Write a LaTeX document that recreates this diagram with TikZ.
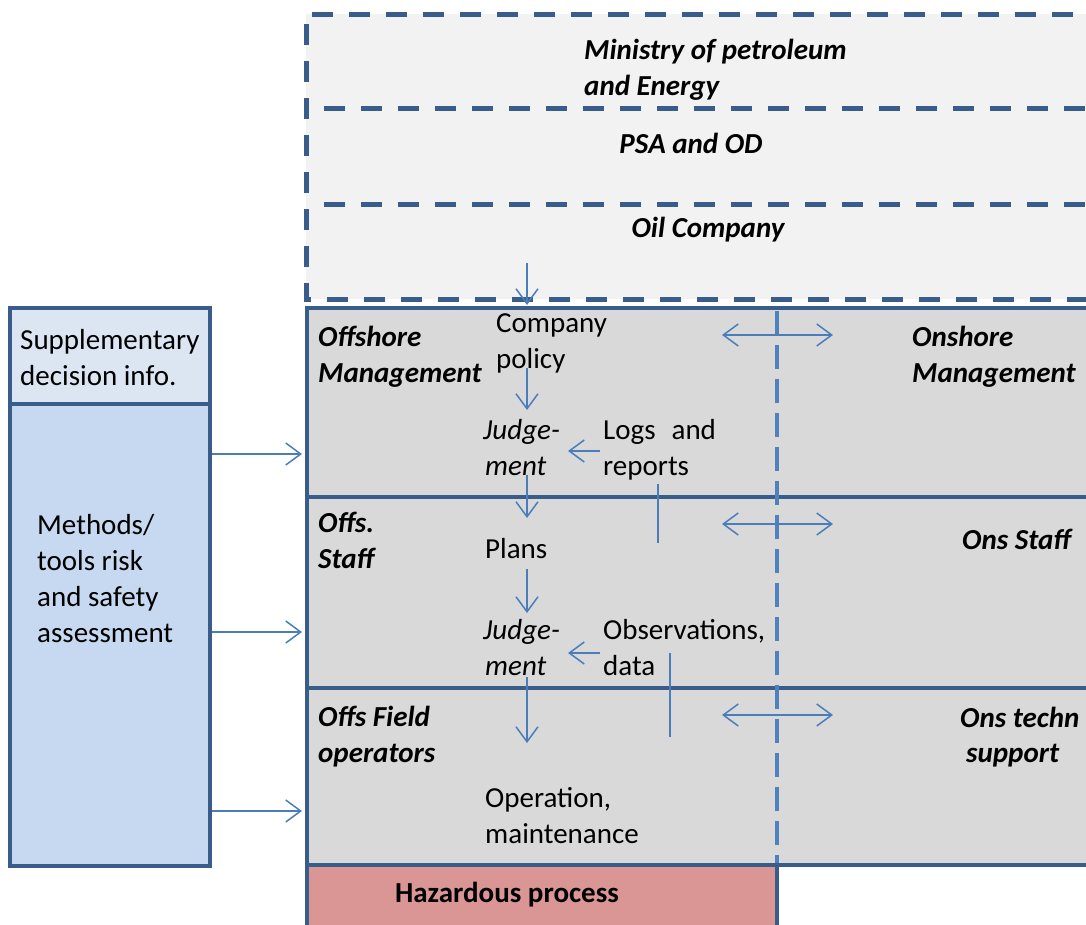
\documentclass[tikz,border=0pt]{standalone}
\usepackage{fontspec}
\setmainfont{Carlito}
\usetikzlibrary{arrows.meta}
\definecolor{frame}{HTML}{385D8A}
\definecolor{flow}{HTML}{4A7EBB}
\definecolor{divider}{HTML}{4F81BD}
\definecolor{regfill}{HTML}{F2F2F2}
\definecolor{orgfill}{HTML}{D9D9D9}
\definecolor{suppfill}{HTML}{DCE6F2}
\definecolor{methfill}{HTML}{C6D9F1}
\definecolor{hazfill}{HTML}{DA9694}
\tikzset{
  frameline/.style={draw=frame, line width=4.5pt},
  dashframe/.style={draw=frame, line width=5pt, dash pattern=on 21pt off 16pt},
  barb/.tip={Straight Barb[length=15pt,width=22pt,line width=1.5pt]},
  flowarrow/.style={draw=flow, line width=1.5pt, -barb},
  twoway/.style={draw=flow, line width=1.5pt, barb-barb},
  plainline/.style={draw=flow, line width=1.5pt},
  txt/.style={anchor=base west, inner sep=0pt, align=left, font=\fontsize{29}{36}\selectfont},
  ttl/.style={txt, font=\fontsize{29}{36}\selectfont\bfseries\itshape},
  itl/.style={txt, font=\fontsize{29}{36}\selectfont\itshape},
}
\begin{document}
\begin{tikzpicture}[x=1pt,y=-1pt]
\useasboundingbox (0,0) rectangle (1086,924);
\clip (0,0) rectangle (1086,924);

% regulatory levels (dashed)
\fill[regfill] (306,14) rectangle (1110,299);
\draw[dashframe] (1110,14) -- (306,14) -- (306,299) -- (1110,299);
\draw[dashframe] (324,108) -- (1110,108);
\draw[dashframe] (324,204) -- (1110,204);

% organisation levels
\fill[orgfill] (307,308) rectangle (1110,865);
\draw[frameline] (1110,308) -- (307,308) -- (307,865) -- (1110,865);
\draw[frameline] (307,497) -- (1110,497);
\draw[frameline] (307,688) -- (1110,688);
\draw[divider, line width=3.5pt, dash pattern=on 24pt off 10pt] (777,311) -- (777,863);

% hazardous process
\draw[frameline, fill=hazfill] (307,865) rectangle (777,950);
\node[ttl, font=\fontsize{29}{36}\selectfont\bfseries, anchor=base] (haz) at (507,902) {Hazardous process};

% left side boxes (multi-line nodes are placed by their last baseline)
\draw[frameline, fill=suppfill] (10,308) rectangle (210,404);
\draw[frameline, fill=methfill] (10,404) rectangle (210,866);
\node[txt] (supp) at (20,385) {Supplementary\\decision info.};
\node[txt] (meth) at (37,642) {Methods/\\tools risk\\and safety\\assessment};

% regulatory texts
\node[ttl] (ministry) at (584,95) {Ministry of petroleum\\and Energy};
\node[ttl, anchor=base] (psa) at (691,153) {PSA and OD};
\node[ttl, anchor=base] (oil) at (708,237) {Oil Company};

% offshore side
\node[ttl] (offman) at (318,382) {Offshore\\Management};
\node[ttl] (offstaff) at (318,568) {Offs.\\Staff};
\node[ttl] (offfield) at (318,762) {Offs Field\\operators};

\node[txt] (policy) at (496,368) {Company\\policy};
\node[itl] (judgeA) at (483,475) {Judge-\\\hspace*{2pt}ment};
\node[txt] (logs) at (603,475) {Logs\hspace{0.55em}and\\reports};
\node[txt] (plans) at (485,558) {Plans};
\node[itl] (judgeB) at (483,675) {Judge-\\\hspace*{2pt}ment};
\node[txt] (obs) at (603,675) {Observations,\\data};
\node[txt] (oper) at (485,843) {Operation,\\maintenance};

% onshore side
\node[ttl] (onman) at (912,382) {Onshore\\Management};
\node[ttl, anchor=base east] (onstaff) at (1071,549) {Ons Staff};
\node[ttl] (ontechA) at (960,727) {Ons techn};
\node[ttl] (ontechB) at (966,762) {support};

% flow coordinates
\coordinate (oilOut) at (527,263);   \coordinate (polIn) at (527,305);
\coordinate (polOut) at (527,368);   \coordinate (jaIn) at (527,410);
\coordinate (jaOut) at (527,475);    \coordinate (plIn) at (527,518);
\coordinate (plOut) at (527,569);    \coordinate (jbIn) at (527,613);
\coordinate (jbOut) at (527,677);    \coordinate (opIn) at (527,743);
\coordinate (logsOut) at (600,451);  \coordinate (jaSide) at (568,451);
\coordinate (obsOut) at (600,653);   \coordinate (jbSide) at (568,653);
\coordinate (logsTop) at (658,484);  \coordinate (logsBot) at (658,543);
\coordinate (obsTop) at (670,653);   \coordinate (obsBot) at (670,737);
\coordinate (mA) at (212,454); \coordinate (oA) at (302,454);
\coordinate (mB) at (212,632); \coordinate (oB) at (302,632);
\coordinate (mC) at (212,811); \coordinate (oC) at (302,811);
\coordinate (xA1) at (722,335); \coordinate (xA2) at (833,335);
\coordinate (xB1) at (722,524); \coordinate (xB2) at (833,524);
\coordinate (xC1) at (722,715); \coordinate (xC2) at (833,715);

\draw[flowarrow] (oilOut) -- (polIn);
\draw[flowarrow] (polOut) -- (jaIn);
\draw[flowarrow] (jaOut) -- (plIn);
\draw[flowarrow] (plOut) -- (jbIn);
\draw[flowarrow] (jbOut) -- (opIn);
\draw[flowarrow] (logsOut) -- (jaSide);
\draw[flowarrow] (obsOut) -- (jbSide);
\draw[plainline] (logsTop) -- (logsBot);
\draw[plainline] (obsTop) -- (obsBot);
\draw[flowarrow] (mA) -- (oA);
\draw[flowarrow] (mB) -- (oB);
\draw[flowarrow] (mC) -- (oC);
\draw[twoway] (xA1) -- (xA2);
\draw[twoway] (xB1) -- (xB2);
\draw[twoway] (xC1) -- (xC2);
\end{tikzpicture}
\end{document}
